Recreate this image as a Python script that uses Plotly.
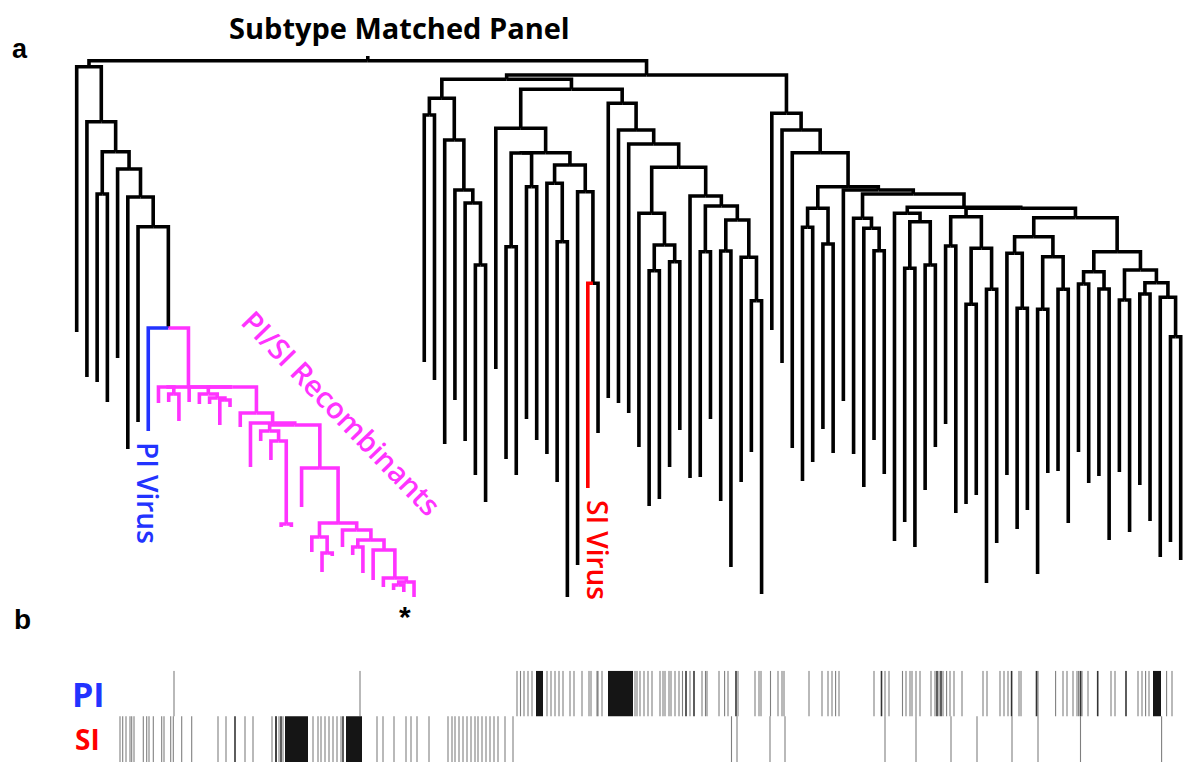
import plotly.graph_objects as go

# ---------------- DATA ----------------
# Dendrogram topology: "o" = next leaf (in order), "(a,b)h" = internal node at depth h
left_clade = "(o,(o,((o,o)194,(o,(o,(o,(o,M0)328)226.7)197)169)151.7)121.7)66.7"
magenta_clade = "((o,(o,o)394)387,(o,((o,(o,(o,o)400)398)394,M259)387)387)387"
magenta_sub = "(o,(o,((o,(o,(o,o)524)441)431,(o,((o,(o,o)553)537,(o,((o,o)547,(o,(o,((o,o)585,o)582)578)550)540)530)523)468)425)423)413"
mid_a = "((o,o)115,(o,(o,(o,(o,o)265)203)190)140)98.3"
mid_b1 = "(o,(((o,o)246.7,(o,o)186.7)153,((o,(o,o)241.7)183.3,(o,(o,o)283.3)191.7)165)152.7)128.3"
mid_p = "(o,((o,o)270.7,(o,o)261.7)245)213.3"
mid_q = "(o,((o,o)251.7,((o,o)251,(o,(o,o)300.7)257.3)220)206)196"
mid_b2 = "(o,(o,(o,(P,Q)167.3)144)130)103.3"
right_s1 = "((o,o)227.3,(o,o)244)208.3"
right_t = "(o,(o,(o,o)250.7)228.3)218.3"
right_u1 = "(o,((o,o)268.3,(o,o)265)221.7)213.3"
right_u3 = "((o,o)246,((o,o)304.3,(o,o)289.3)248.3)216.7"
right_v = "((o,(o,o)308.3)253.3,((o,o)309.3,(o,o)289.3)256.7)236.7"
right_w = "(((o,o)284,(o,o)289)271.7,((o,o)300,((o,o)294,(o,(o,o)336.7)297.3)282.7)270)251.7"
right_clade = "(o,(o,(o,(S1,(o,(T,(U1,(U3,(V,W)217.7)208.3)207.3)194)190)186.7)152.7)130)113.3"
root_depth_top = 56.0

# Tip depths (leaf end of each branch), leaves in drawing order
left_tips = [332, 377, 382, 402, 358, 449, 422, 431]
magenta_tips = [403, 402, 421, 402, 404, 404, 425, 407, 427, 467, 441, 460, 527, 527,
                507, 552, 572, 556, 547, 555, 573, 580, 587, 590, 592, 597]
middle_tips = [362, 380, 444, 400, 441, 475, 502, 369, 459, 475, 419, 440, 454, 482,
               597, 565, 488, 433, 398, 403, 413, 447, 506, 499, 467, 430, 478, 477,
               419, 501, 567, 482, 452, 594]
right_tips = [330, 363, 448, 481, 462, 429, 453, 401, 454, 487, 440, 474, 541, 522,
              547, 490, 447, 424, 513, 504, 495, 583, 543, 475, 529, 510, 574, 473,
              471, 523, 452, 483, 476, 540, 472, 532, 485, 521, 557, 542, 560]

blue_leaves = [7]
magenta_leaves = list(range(8, 34))
red_leaves = [50]

# Barcode panel (site positions along alignment)
pi_light = [174, 360, 517, 520.5, 524, 528, 532, 547, 551, 555, 559, 563, 570, 574, 582,
            589, 591, 597, 598, 602, 635, 637, 640, 644, 648, 652, 660, 663, 665, 669,
            671, 675, 679, 682.5, 690, 702, 705.5, 707, 719, 724.6, 728, 738, 755, 759,
            761, 770.5, 778, 782, 784, 809, 822, 828, 832, 835.6, 839, 874, 885, 889,
            902.5, 906, 910, 912, 916, 920, 931, 935, 939, 943, 946.6, 950, 954, 962,
            983, 987, 1000, 1004, 1008, 1019, 1021, 1038, 1055.6, 1063, 1067, 1073,
            1077, 1078.6, 1082, 1088, 1111, 1115, 1138, 1142, 1145.6, 1149, 1166.6, 1172]
pi_dark = [686, 694, 736, 881.5, 937, 941, 1011.6, 1036.5, 1080.5, 1097.7, 1126]
pi_blocks = [(536, 543), (608, 633), (1153, 1161)]

si_light = [120, 122.7, 126, 130, 131.7, 134, 143.3, 146.7, 149, 153.3, 161.7, 164,
            170.7, 173.3, 181.7, 191.7, 218, 226, 245, 253, 272, 276, 279, 283, 313,
            318, 321, 325, 329, 333, 337, 341, 377, 383, 394, 406, 411, 417, 429, 448,
            452, 455, 459, 463, 467, 471, 475, 478, 482, 486, 490, 494, 498, 505, 513,
            731.5, 737, 770, 785, 885, 916, 951, 977, 1012, 1038, 1080.5, 1161.6]
si_dark = [235, 276, 281, 343]
si_blocks = [(285, 308), (346, 362)]

# ---------------- BUILD TREE ----------------
tree_str = "(LEFT,(MID,RIGHT)75)60.7"
tree_str = tree_str.replace("LEFT", left_clade.replace("M0", magenta_clade.replace("M259", magenta_sub)))
tree_str = tree_str.replace("MID", "(" + mid_a + "," + "(" + mid_b1 + "," + mid_b2.replace("P", mid_p).replace("Q", mid_q) + ")89.3)79.3")
tree_str = tree_str.replace("RIGHT", right_clade.replace("S1", right_s1).replace("T", right_t)
                            .replace("U1", right_u1).replace("U3", right_u3)
                            .replace("V", right_v).replace("W", right_w))

tips = left_tips + magenta_tips + middle_tips + right_tips

BLACK, BLUE, MAG, RED = "#000000", "#2233ff", "#ff33ff", "#ff0000"


def leaf_color(i):
    if i in blue_leaves:
        return BLUE
    if i in magenta_leaves:
        return MAG
    if i in red_leaves:
        return RED
    return BLACK


def parse(s):
    pos = 0
    counter = [0]

    def node():
        nonlocal pos
        if s[pos] == "o":
            pos += 1
            i = counter[0]
            counter[0] += 1
            return {"x": float(i), "y": float(tips[i]), "c": leaf_color(i), "kids": []}
        pos += 1  # "("
        kids = [node()]
        while s[pos] == ",":
            pos += 1
            kids.append(node())
        pos += 1  # ")"
        j = pos
        while j < len(s) and (s[j].isdigit() or s[j] == "."):
            j += 1
        h = float(s[pos:j])
        pos = j
        cols = {k["c"] for k in kids}
        col = cols.pop() if len(cols) == 1 else BLACK
        return {"x": (kids[0]["x"] + kids[-1]["x"]) / 2, "y": h, "c": col, "kids": kids}

    r = node()
    return r, counter[0]


root, nleaves = parse(tree_str)

segs = {}


def walk(n):
    for k in n["kids"]:
        xs, ys = segs.setdefault(k["c"], ([], []))
        xs += [n["x"], k["x"], k["x"], None]
        ys += [n["y"], n["y"], k["y"], None]
        walk(k)


walk(root)
xs, ys = segs.setdefault(BLACK, ([], []))
xs += [root["x"], root["x"], None]
ys += [root_depth_top, root["y"], None]

fig = go.Figure()
for col in [BLACK, BLUE, MAG, RED]:
    if col in segs:
        fig.add_trace(go.Scatter(x=segs[col][0], y=segs[col][1], mode="lines",
                                 line=dict(color=col, width=3.6), hoverinfo="skip",
                                 xaxis="x", yaxis="y", showlegend=False))


# Barcode
def bar_lines(pos, y0, y1):
    bx, by = [], []
    for p in pos:
        bx += [p, p, None]
        by += [y0, y1, None]
    return bx, by


for row_light, row_dark, row_blocks, y0, y1 in [
        (pi_light, pi_dark, pi_blocks, 1, 2), (si_light, si_dark, si_blocks, 0, 1)]:
    bx, by = bar_lines(row_light, y0, y1)
    fig.add_trace(go.Scatter(x=bx, y=by, mode="lines", line=dict(color="rgba(0,0,0,0.5)", width=1.1),
                             xaxis="x2", yaxis="y2", hoverinfo="skip", showlegend=False))
    bx, by = bar_lines(row_dark, y0, y1)
    fig.add_trace(go.Scatter(x=bx, y=by, mode="lines", line=dict(color="rgba(0,0,0,0.8)", width=1.6),
                             xaxis="x2", yaxis="y2", hoverinfo="skip", showlegend=False))
    for a, b in row_blocks:
        fig.add_trace(go.Scatter(x=[a, b, b, a, a], y=[y0, y0, y1, y1, y0], mode="lines",
                                 fill="toself", fillcolor="#151515", line=dict(width=0),
                                 xaxis="x2", yaxis="y2", hoverinfo="skip", showlegend=False))

W_, H_ = 1183, 762
leaf0_px, leaf_step = 76.7, (1180.7 - 76.7) / (nleaves - 1)
x_range = [-leaf0_px / leaf_step, (W_ - leaf0_px) / leaf_step]

bar_top = 670.7
fig.update_layout(
    width=W_, height=H_, margin=dict(l=0, r=0, t=0, b=0),
    paper_bgcolor="white", plot_bgcolor="white",
    xaxis=dict(range=x_range, visible=False, domain=[0, 1]),
    yaxis=dict(range=[H_, 0], visible=False, domain=[0, 1]),
    xaxis2=dict(range=[0, W_], visible=False, domain=[0, 1], anchor="y2"),
    yaxis2=dict(range=[0, 2], visible=False, domain=[0, (H_ - bar_top) / H_], anchor="x2"),
)


def px(x):
    return x / W_


def py(y):
    return 1 - y / H_


ann = [
    dict(text="Subtype Matched Panel", x=px(399), y=py(27), size=29, color="#000", fam="Open Sans", w=700, ang=0),
    dict(text="a", x=px(20), y=py(49), size=27, color="#000", fam="Liberation Sans", w=700, ang=0),
    dict(text="b", x=px(22), y=py(619), size=28, color="#000", fam="Liberation Sans", w=700, ang=0),
    dict(text="PI", x=px(88), y=py(694), size=34, color=BLUE, fam="Open Sans", w=700, ang=0),
    dict(text="SI", x=px(87), y=py(739), size=28, color=RED, fam="Open Sans", w=700, ang=0),
    dict(text="PI Virus", x=px(148), y=py(493), size=28, color=BLUE, fam="Open Sans", w=600, ang=90),
    dict(text="SI Virus", x=px(598), y=py(550), size=28, color=RED, fam="Open Sans", w=600, ang=90),
    dict(text="PI/SI Recombinants", x=px(342), y=py(412), size=29, color=MAG, fam="Open Sans", w=600, ang=46),
    dict(text="*", x=px(405), y=py(616), size=30, color="#000", fam="Liberation Sans", w=700, ang=0),
]
for a in ann:
    fig.add_annotation(text=a["text"], x=a["x"], y=a["y"], xref="paper", yref="paper",
                       showarrow=False, textangle=a["ang"], xanchor="center", yanchor="middle",
                       font=dict(family=a["fam"], size=a["size"], color=a["color"], weight=a["w"]))

fig.write_html("out.html", config={"displayModeBar": False},
               post_script="document.body.style.margin='0';document.body.style.overflow='hidden';")
